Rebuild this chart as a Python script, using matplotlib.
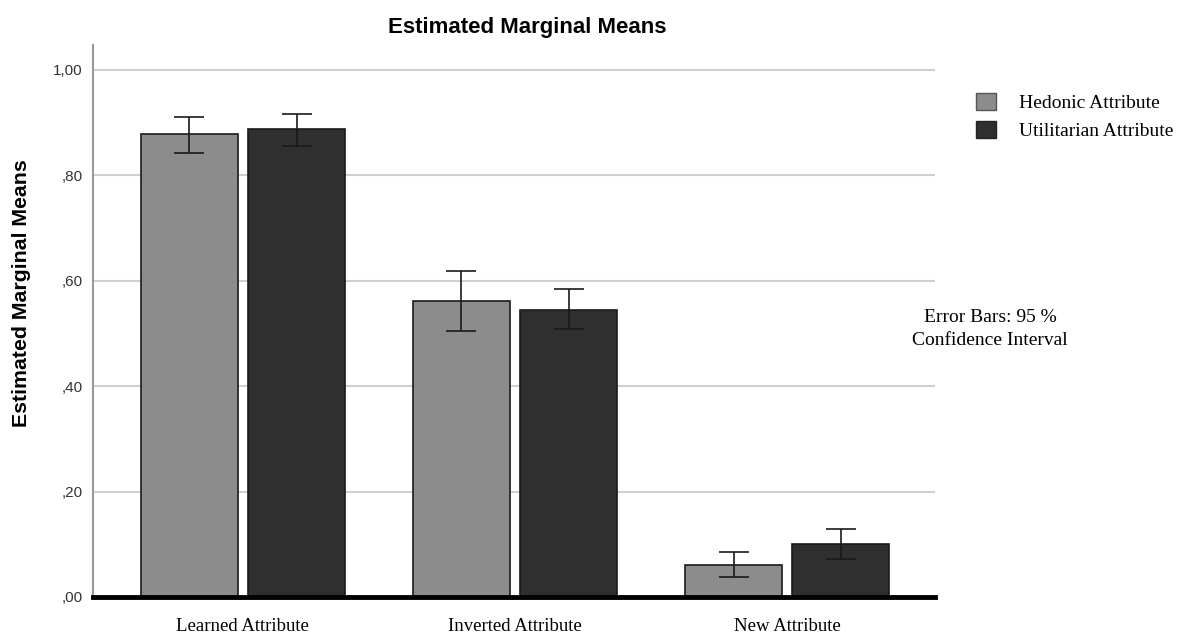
import numpy as np
import matplotlib
matplotlib.use("Agg")
import matplotlib.pyplot as plt
from matplotlib.patches import Patch

categories = ["Learned Attribute", "Inverted Attribute", "New Attribute"]
series = ["Hedonic Attribute", "Utilitarian Attribute"]
hedonic = [0.879, 0.562, 0.061]
hedonic_lo = [0.843, 0.505, 0.038]
hedonic_hi = [0.911, 0.619, 0.085]
utilitarian = [0.888, 0.545, 0.101]
utilitarian_lo = [0.856, 0.509, 0.072]
utilitarian_hi = [0.917, 0.584, 0.129]
yticks = [0.0, 0.2, 0.4, 0.6, 0.8, 1.0]
ytick_labels = [",00", ",20", ",40", ",60", ",80", "1,00"]

colors = ["#8c8c8c", "#2f2f2f"]

fig = plt.figure(figsize=(11.84, 6.34), dpi=100)
ax = fig.add_axes([0.0785, 0.0584, 0.7115, 0.8706])

x = np.arange(len(categories))
w = 0.357
off = 0.197
for i, (vals, lo, hi) in enumerate([(hedonic, hedonic_lo, hedonic_hi),
                                     (utilitarian, utilitarian_lo, utilitarian_hi)]):
    pos = x + (-off if i == 0 else off)
    vals = np.array(vals)
    err = [vals - np.array(lo), np.array(hi) - vals]
    ax.bar(pos, vals, width=w, color=colors[i], edgecolor="#1a1a1a", linewidth=1.2, zorder=3)
    ax.errorbar(pos, vals, yerr=err, fmt="none", ecolor="#1a1a1a", elinewidth=1.2,
                capsize=10.5, capthick=1.2, zorder=4)

ax.set_xlim(-0.551, 2.544)
ax.set_ylim(0, 1.047)
ax.set_yticks(yticks)
ax.set_yticklabels(ytick_labels, fontsize=11, color="#333333", family="Liberation Sans")
ax.set_xticks(x)
ax.set_xticklabels(categories, fontsize=13.5, family="Liberation Serif")
ax.tick_params(axis="both", length=0)
ax.tick_params(axis="x", pad=15)
ax.tick_params(axis="y", pad=7.5)
ax.yaxis.grid(True, color="#d0d0d0", linewidth=1.5, zorder=0)
ax.set_axisbelow(True)
for s in ["top", "right"]:
    ax.spines[s].set_visible(False)
ax.spines["left"].set_color("#999999")
ax.spines["left"].set_linewidth(1.5)
ax.spines["bottom"].set_color("black")
ax.spines["bottom"].set_linewidth(3.5)
ax.spines["bottom"].set_zorder(5)

fig.text(22 / 1184, 1 - 293 / 634, "Estimated Marginal Means", fontsize=15.3,
         fontweight="bold", family="Liberation Sans", rotation=90,
         ha="center", va="center")
fig.text(0.445, 0.957, "Estimated Marginal Means", fontsize=16, fontweight="bold",
         family="Liberation Sans", ha="center", va="center")

handles = [Patch(facecolor=colors[0], edgecolor="#555555"),
           Patch(facecolor=colors[1], edgecolor="#222222")]
fig.legend(handles, series, loc="upper left", bbox_to_anchor=(0.8165, 0.869),
           frameon=False, borderpad=0, prop={"family": "Liberation Serif", "size": 14},
           handlelength=1.0, handleheight=1.0, handletextpad=1.2, labelspacing=0.44)

fig.text(990 / 1184, 1 - 329 / 634, "Error Bars: 95 %\nConfidence Interval", fontsize=14,
         family="Liberation Serif", ha="center", va="center", linespacing=1.45)

fig.savefig("out.png", dpi=100)
